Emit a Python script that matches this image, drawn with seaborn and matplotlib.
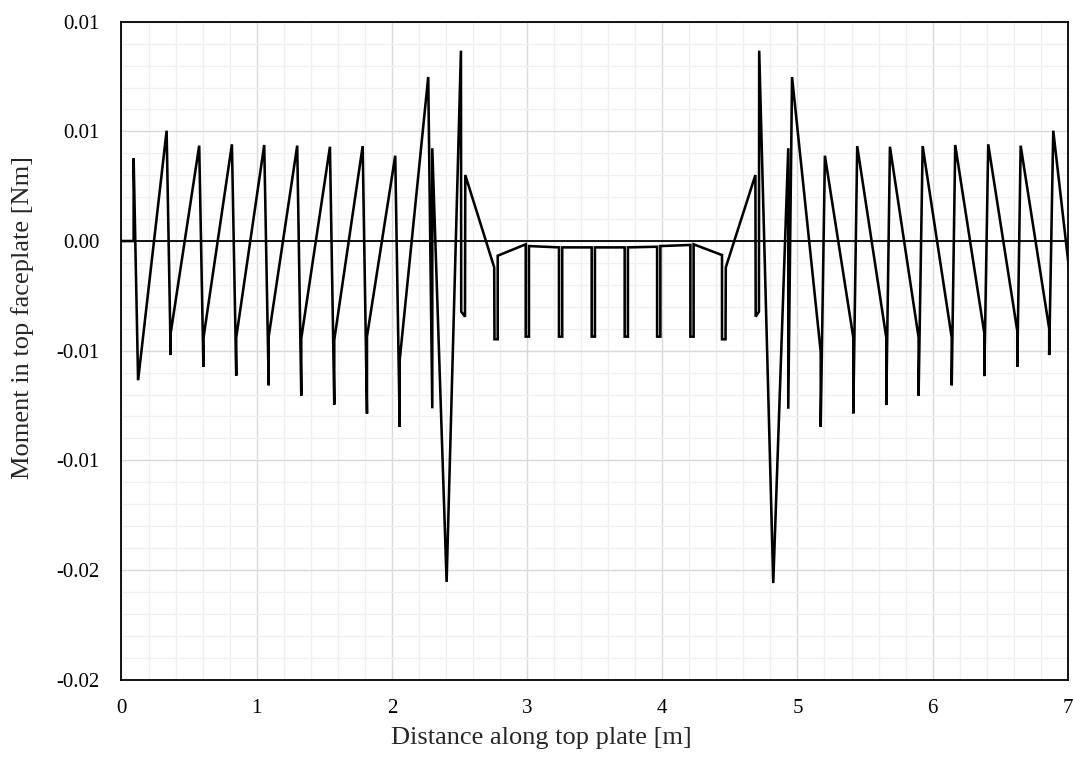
import numpy as np
import pandas as pd
import matplotlib
matplotlib.use("Agg")
import matplotlib.pyplot as plt
from matplotlib.ticker import MultipleLocator
import seaborn as sns

# Moment along the top faceplate
distance_m = [
    0.000, 0.090, 0.090, 0.123, 0.334, 0.364, 0.364, 0.575, 0.606, 0.606,
    0.817, 0.849, 0.849, 1.056, 1.089, 1.089, 1.300, 1.330, 1.330, 1.542,
    1.574, 1.574, 1.784, 1.816, 1.816, 2.025, 2.058, 2.058, 2.269, 2.299,
    2.299, 2.405, 2.511, 2.513, 2.541, 2.543, 2.757, 2.759, 2.783, 2.783,
    2.990, 2.990, 3.014, 3.014, 3.236, 3.236, 3.260, 3.260, 3.478, 3.478,
    3.502, 3.502, 3.722, 3.722, 3.746, 3.746, 3.962, 3.962, 3.986, 3.986,
    4.208, 4.208, 4.232, 4.232, 4.442, 4.442, 4.468, 4.470, 4.689, 4.691,
    4.715, 4.717, 4.821, 4.932, 4.932, 4.960, 5.172, 5.172, 5.203, 5.413,
    5.413, 5.442, 5.657, 5.657, 5.684, 5.896, 5.896, 5.926, 6.141, 6.141,
    6.167, 6.382, 6.382, 6.411, 6.626, 6.626, 6.651, 6.862, 6.862, 6.892,
    7.103,
]
moment_nm = [
    0.0, 0.0, 0.00377, -0.00635, 0.00503, -0.00520, -0.00421, 0.00435, -0.00573, -0.00444,
    0.00441, -0.00614, -0.00440, 0.00438, -0.00658, -0.00436, 0.00435, -0.00705, -0.00444, 0.00430,
    -0.00746, -0.00451, 0.00433, -0.00787, -0.00436, 0.00389, -0.00848, -0.00543, 0.00748, -0.00763,
    0.00423, -0.01555, 0.00868, -0.00322, -0.00345, 0.00301, -0.00120, -0.00448, -0.00448, -0.00067,
    -0.00015, -0.00436, -0.00436, -0.00023, -0.00029, -0.00436, -0.00436, -0.00029, -0.00029, -0.00436,
    -0.00436, -0.00029, -0.00029, -0.00436, -0.00436, -0.00029, -0.00026, -0.00436, -0.00436, -0.00023,
    -0.00018, -0.00436, -0.00436, -0.00015, -0.00064, -0.00448, -0.00448, -0.00120, 0.00301, -0.00345,
    -0.00322, 0.00868, -0.01560, 0.00423, -0.00765, 0.00748, -0.00505, -0.00847, 0.00389, -0.00440,
    -0.00786, 0.00433, -0.00440, -0.00748, 0.00430, -0.00440, -0.00705, 0.00433, -0.00440, -0.00658,
    0.00438, -0.00420, -0.00616, 0.00441, -0.00410, -0.00573, 0.00435, -0.00400, -0.00520, 0.00503,
    -0.00635,
]

y_ticks = [-0.02, -0.015, -0.01, -0.005, 0.0, 0.005, 0.01]
y_tick_labels = ["-0.02", "-0.02", "-0.01", "-0.01", "0.00", "0.01", "0.01"]
x_ticks = [0, 1, 2, 3, 4, 5, 6, 7]

df = pd.DataFrame({"distance": distance_m, "moment": moment_nm})

sns.set_style("white")
plt.rcParams['font.family'] = ['Liberation Serif', 'DejaVu Serif']

fig = plt.figure(figsize=(10.73, 7.6), dpi=100)
ax = fig.add_axes([0.1132, 0.1058, 0.882, 0.8656])

# zero axis line drawn across the plot
ax.axhline(0, color='black', linewidth=1.3, zorder=2)

sns.lineplot(data=df, x="distance", y="moment", sort=False, estimator=None,
             color='black', linewidth=1.85, ax=ax, zorder=3)
ax.lines[-1].set_solid_joinstyle('miter')

ax.set_xlim(0, 7)
ax.set_ylim(-0.02, 0.01)
ax.set_xticks(x_ticks)
ax.set_yticks(y_ticks)
ax.set_yticklabels(y_tick_labels)
ax.xaxis.set_minor_locator(MultipleLocator(0.2))
ax.yaxis.set_minor_locator(MultipleLocator(0.001))

ax.grid(which='major', color='#d9d9d9', linewidth=1.0, zorder=0)
ax.grid(which='minor', color='#f0f0f0', linewidth=1.0, zorder=0)
ax.set_axisbelow(True)
ax.tick_params(which='both', length=0, labelsize=15, colors='black')
ax.tick_params(axis='y', pad=16)
ax.tick_params(axis='x', pad=14)

for side in ax.spines.values():
    side.set_color('black')
    side.set_linewidth(1.3)

# axis titles sit where the original chart placed them
ax.set_xlabel('Distance along top plate [m]', fontsize=19, va='center', ha='center')
ax.xaxis.set_label_coords(0.444, -0.0888)
ax.set_ylabel('Moment in top faceplate [Nm]', fontsize=19, va='center', ha='center')
ax.yaxis.set_label_coords(-0.105, 0.551)

fig.savefig('out.png', dpi=100)
